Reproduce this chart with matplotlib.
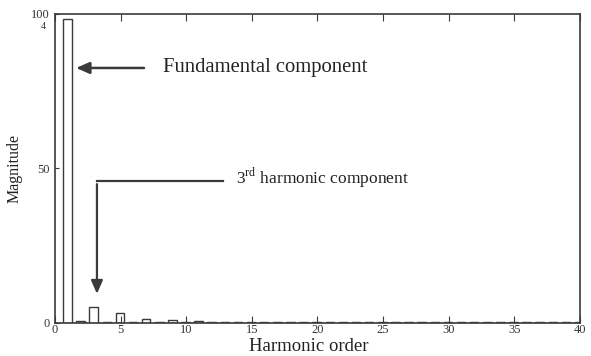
import numpy as np
import matplotlib.pyplot as plt

plt.rcParams['font.family'] = ['Liberation Serif', 'DejaVu Serif']
plt.rcParams['mathtext.fontset'] = 'custom'
plt.rcParams['mathtext.rm'] = 'Liberation Serif'

# harmonic order and magnitude (% of fundamental)
orders = np.arange(1, 41)
mags = [98.5, 0.5, 5.3, 0.4, 3.2, 0.4, 1.3, 0.4, 0.8, 0.4,
        0.6, 0.3, 0.4, 0.3, 0.3, 0.3, 0.3, 0.3, 0.3, 0.3,
        0.3, 0.3, 0.3, 0.3, 0.3, 0.3, 0.3, 0.3, 0.3, 0.3,
        0.3, 0.3, 0.3, 0.3, 0.3, 0.3, 0.3, 0.3, 0.3, 0.3]
xticks = [0, 5, 10, 15, 20, 25, 30, 35, 40]
yticks = [0, 50, 100]

col = '#3a3a3a'
fig = plt.figure(figsize=(5.91, 3.56), dpi=100)
ax = fig.add_axes([0.093, 0.093, 0.888, 0.868])

ax.bar(orders - 0.05, mags, width=0.65, facecolor='white', edgecolor=col, linewidth=1.0)

ax.set_xlim(0, 40)
ax.set_ylim(0, 100)
ax.set_xticks(xticks)
ax.set_yticks(yticks)
ax.tick_params(direction='in', top=True, length=5, color=col, labelsize=9, labelcolor='#333333')
ax.tick_params(axis='x', pad=1)
ax.tick_params(axis='y', length=3, pad=4)
for s in ax.spines.values():
    s.set_color(col)
    s.set_linewidth(1.2)

ax.set_xlabel('Harmonic order', fontsize=13.5, color='#222222')
ax.xaxis.set_label_coords(0.484, -0.048, transform=ax.transAxes)
ax.xaxis.label.set_va('top')
ax.set_ylabel('Magnitude', fontsize=11.5, labelpad=6, color='#222222')
ax.text(-0.7, 97.3, '4', fontsize=7, ha='right', va='top', color='#333333')

# fundamental annotation
ax.annotate('', xy=(1.4, 82.5), xytext=(7.0, 82.5),
            arrowprops=dict(arrowstyle='-|>,head_length=0.8,head_width=0.35', color=col, lw=1.8))
ax.text(8.2, 82.5, 'Fundamental component', fontsize=14.9, va='center', color='#222222')

# 3rd harmonic annotation
ax.plot([12.8, 3.2], [45.8, 45.8], color=col, lw=1.6)
ax.annotate('', xy=(3.2, 8.5), xytext=(3.2, 45.8),
            arrowprops=dict(arrowstyle='-|>,head_length=0.8,head_width=0.35', color=col, lw=1.6))
ax.text(13.8, 47, '3$^{\\rm rd}$ harmonic component', fontsize=12.5, va='center', color='#222222')

plt.savefig('out.png', dpi=100)
